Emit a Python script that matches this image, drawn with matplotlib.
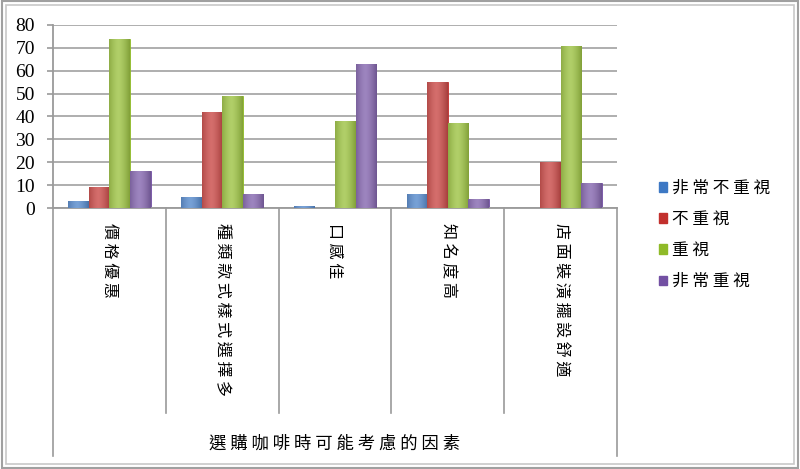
import matplotlib
matplotlib.use("Agg")
import matplotlib.pyplot as plt
import numpy as np
from matplotlib.patches import Patch, Rectangle
from matplotlib.colors import to_rgb

plt.rcParams['font.family'] = ['Noto Sans CJK TC', 'DejaVu Sans']

# survey factors when buying coffee
factors = ['價格優惠', '種類款式樣式選擇多', '口感佳', '知名度高', '店面裝潢擺設舒適']
series = ['非常不重視', '不重視', '重視', '非常重視']
axis_title = '選購咖啡時可能考慮的因素'

very_unimportant = [3, 5, 1, 6, 0]
unimportant = [9, 42, 0, 55, 20]
important = [74, 49, 38, 37, 71]
very_important = [16, 6, 63, 4, 11]

values = [very_unimportant, unimportant, important, very_important]
colors = ['#3d78c4', '#c2302d', '#8fba28', '#7350a3']

fig = plt.figure(figsize=(8, 4.69), dpi=100)
ax = fig.add_axes([0.06625, 0.5565, 0.705, 0.3902])

x = np.arange(len(factors))
w = 0.183


def shade(bar, color):
    # left-to-right gradient: dark edges, light middle
    r, g, b = to_rgb(color)
    t = np.linspace(0, 1, 64)
    k = 1 - 0.55 * (2 * np.abs(t - 0.45)) ** 1.5
    light = np.array([r, g, b]) + (1 - np.array([r, g, b])) * 0.3
    dark = np.array([r, g, b]) * 0.72
    img = dark[None, :] + (light - dark)[None, :] * k[:, None]
    img = img[None, :, :]
    x0, y0 = bar.get_x(), bar.get_y()
    im = ax.imshow(img, extent=[x0, x0 + bar.get_width(), y0, y0 + bar.get_height()],
                   aspect='auto', zorder=3, interpolation='bilinear')
    im.set_clip_path(bar)


for i, (vals, c) in enumerate(zip(values, colors)):
    bars = ax.bar(x + (i - 1.5) * w, vals, w, color=c, edgecolor=c, lw=0.6, zorder=2)
    for bar in bars:
        if bar.get_height() > 0:
            shade(bar, c)

ax.set_xlim(-0.5, len(factors) - 0.5)
ax.set_ylim(0, 80)
ax.set_yticks(range(0, 81, 10))
ax.yaxis.grid(True, color='#a8a8a8', lw=1.3, zorder=0)
ax.set_axisbelow(True)
for s in ['top', 'right']:
    ax.spines[s].set_visible(False)
ax.spines['left'].set_color('#9a9a9a')
ax.spines['bottom'].set_color('#9a9a9a')
ax.spines['left'].set_linewidth(1.3)
ax.spines['bottom'].set_linewidth(1.3)

ax.tick_params(axis='y', length=4, width=1.2, color='#9a9a9a', pad=9)
for lab in ax.get_yticklabels():
    lab.set_fontfamily('Liberation Serif')
    lab.set_fontsize(14)

ax.set_xticks(x)
ax.set_xticklabels([' '.join(f) for f in factors], rotation=270, fontsize=11.5,
                   va='top', ha='center')
ax.tick_params(axis='x', length=0, pad=11)

# category separators and outer group lines
tr = ax.get_xaxis_transform()
for b in np.arange(0.5, len(factors) - 0.5, 1):
    ax.plot([b, b], [0, -1.12], transform=tr, color='#9a9a9a', lw=1.2, clip_on=False)
for b in [-0.5, len(factors) - 0.5]:
    ax.plot([b, b], [0, -1.355], transform=tr, color='#9a9a9a', lw=1.2, clip_on=False)

ax.text(2, -1.285, ' '.join(axis_title), transform=tr,
        ha='center', va='center', fontsize=12.5)

handles = [Patch(facecolor=c, edgecolor=c) for c in colors]
fig.legend(handles, [' '.join(s) for s in series], loc='center left',
           bbox_to_anchor=(0.805, 1 - 235 / 469), frameon=False, fontsize=12,
           handlelength=0.5, handleheight=0.5, handletextpad=0.3, labelspacing=0.85)

# chart frame
fig.patches.append(Rectangle((0.002, 0.003), 0.996, 0.994, transform=fig.transFigure,
                             fill=False, edgecolor='#a0a0a0', lw=1.5))
fig.patches.append(Rectangle((0.007, 0.011), 0.986, 0.978, transform=fig.transFigure,
                             fill=False, edgecolor='#c8c8c8', lw=1.2))

fig.savefig('out.png', dpi=100)
